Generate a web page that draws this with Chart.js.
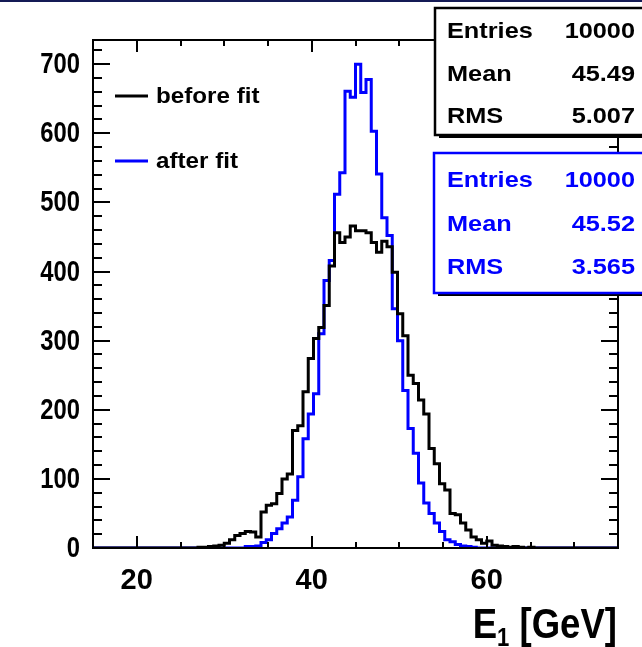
<!DOCTYPE html>
<html><head><meta charset="utf-8">
<script src="https://cdn.jsdelivr.net/npm/chart.js@4.4.1/dist/chart.umd.min.js"></script>
<style>html,body{margin:0;padding:0;background:#fff;overflow:hidden}</style>
</head><body>
<canvas id="c" width="642" height="647"></canvas>
<script>
// ---- data ----
const xMin = 15, xMax = 75, nBins = 100;
const beforeFit = [
  0,0,0,0,0,0,0,0,0,0, 0,0,0,0,0,0,0,0,0,0,
  1,1,2,3,4,7,12,18,21,24,
  23,16,52,62,64,79,100,107,170,177,
  226,274,303,319,351,408,456,442,450,466,
  459,459,456,442,428,444,436,399,339,307,
  250,238,214,194,144,122,93,84,50,48,
  36,26,16,12,7,10,4,3,2,1,
  2,1,0,1,0,0,0,0,0,0, 0,0,0,0,0,0,0,0,0,0
];
const afterFit = [
  0,0,0,0,0,0,0,0,0,0, 0,0,0,0,0,0,0,0,0,0,
  0,0,0,0,0,0,0,0,0,2,
  2,3,8,12,21,28,36,45,69,103,
  158,194,223,310,387,416,512,543,661,652,
  700,659,678,603,541,478,452,346,300,228,
  173,137,94,65,50,36,24,12,9,5,
  3,2,1,0,0,0,0,0,0,0,
  0,0,0,0,0,0,0,0,0,0, 0,0,0,0,0,0,0,0,0,0
];
const seriesLabels = ['before fit', 'after fit'];
const seriesColors = ['#000000', '#0000ff'];
const xTickLabels = [20, 40, 60];
const yTickLabels = [0, 100, 200, 300, 400, 500, 600, 700];
const yMax = 735;
const statNames = ['Entries', 'Mean', 'RMS'];
const statsBefore = ['10000', '45.49', '5.007'];
const statsAfter = ['10000', '45.52', '3.565'];
const xTitleMain = 'E', xTitleSub = '1', xTitleRest = ' [GeV]';

const FONT = "'Liberation Sans', Arial, Helvetica, sans-serif";

function steps(vals) {
  const w = (xMax - xMin) / nBins;
  const pts = vals.map((v, i) => ({ x: xMin + i * w, y: v }));
  pts.push({ x: xMax, y: vals[vals.length - 1] });
  return pts;
}

function sText(ctx, txt, x, y, sx, align) {
  ctx.save();
  ctx.translate(x, y);
  ctx.scale(sx, 1);
  ctx.textAlign = align;
  ctx.fillText(txt, 0, 0);
  ctx.restore();
}

const decor = {
  id: 'decor',
  afterDraw(chart) {
    const ctx = chart.ctx;
    const xs = chart.scales.x, ys = chart.scales.y;
    const L = chart.chartArea.left, R = chart.chartArea.right;
    const T = chart.chartArea.top, B = chart.chartArea.bottom;
    ctx.save();
    // top navy strip
    ctx.fillStyle = '#141a55';
    ctx.fillRect(0, 0, 642, 2);
    // frame
    ctx.strokeStyle = '#000';
    ctx.lineWidth = 2;
    ctx.strokeRect(L, T, R - L, B - T);
    // x ticks (bottom and top)
    ctx.beginPath();
    for (let v = 15; v <= 75; v += 5) {
      const px = Math.round(xs.getPixelForValue(v));
      const len = (v % 20 === 0) ? 12 : 6;
      ctx.moveTo(px, B); ctx.lineTo(px, B - len);
      ctx.moveTo(px, T); ctx.lineTo(px, T + len);
    }
    // y ticks (left and right)
    for (let v = 0; v <= yMax; v += 20) {
      const py = Math.round(ys.getPixelForValue(v));
      const len = (v % 100 === 0) ? 17 : 9;
      ctx.moveTo(L, py); ctx.lineTo(L + len, py);
      ctx.moveTo(R, py); ctx.lineTo(R - len, py);
    }
    ctx.stroke();

    // y tick labels (condensed, placed by the y scale)
    ctx.fillStyle = '#000';
    ctx.font = 'bold 29px ' + FONT;
    ctx.textBaseline = 'middle';
    ys.ticks.forEach(t => {
      sText(ctx, String(t.value), 80, ys.getPixelForValue(t.value) + 1, 0.82, 'right');
    });

    // legend
    ctx.font = 'bold 22px ' + FONT;
    ctx.textBaseline = 'middle';
    const legY = [96, 161];
    seriesLabels.forEach((lab, i) => {
      ctx.strokeStyle = seriesColors[i];
      ctx.lineWidth = 3;
      ctx.beginPath(); ctx.moveTo(115, legY[i]); ctx.lineTo(148, legY[i]); ctx.stroke();
      ctx.fillStyle = '#000';
      sText(ctx, lab, 156, legY[i] + 1, 1.1, 'left');
    });

    // stat boxes
    function box(x, y, w, h, col, names, vals, rowY) {
      ctx.fillStyle = '#000';
      ctx.fillRect(x + 4, y + h, w, 3);
      ctx.fillStyle = '#fff';
      ctx.fillRect(x, y, w, h);
      ctx.strokeStyle = col; ctx.lineWidth = 2.5;
      ctx.strokeRect(x, y, w, h);
      ctx.fillStyle = col;
      ctx.font = 'bold 22px ' + FONT;
      ctx.textBaseline = 'middle';
      names.forEach((n, i) => {
        sText(ctx, n, 447, rowY[i] + 1, 1.15, 'left');
        sText(ctx, vals[i], 635, rowY[i] + 1, 1.15, 'right');
      });
    }
    box(435, 8, 220, 127, '#000', statNames, statsBefore, [31, 74, 116]);
    box(434, 153, 220, 140, '#0000ff', statNames, statsAfter, [180, 224, 267]);

    // x title with subscript
    ctx.fillStyle = '#000';
    ctx.textBaseline = 'alphabetic';
    const sx = 0.85;
    const fMain = 'bold 43px ' + FONT, fSub = 'bold 26px ' + FONT;
    ctx.font = fMain;
    const wE = ctx.measureText(xTitleMain).width * sx;
    const wR = ctx.measureText(xTitleRest).width * sx;
    ctx.font = fSub;
    const wS = ctx.measureText(xTitleSub).width * sx;
    const right = 617, base = 638;
    const x0 = right - (wE + wS + wR);
    ctx.font = fMain; sText(ctx, xTitleMain, x0, base, sx, 'left');
    ctx.font = fSub; sText(ctx, xTitleSub, x0 + wE, base + 8, sx, 'left');
    ctx.font = fMain; sText(ctx, xTitleRest, x0 + wE + wS, base, sx, 'left');
    ctx.restore();
  }
};

new Chart(document.getElementById('c'), {
  type: 'line',
  data: {
    datasets: [
      { label: seriesLabels[0], data: steps(beforeFit), borderColor: seriesColors[0], borderWidth: 3,
        stepped: 'before', pointRadius: 0, fill: false, tension: 0 },
      { label: seriesLabels[1], data: steps(afterFit), borderColor: seriesColors[1], borderWidth: 3,
        stepped: 'before', pointRadius: 0, fill: false, tension: 0 }
    ]
  },
  options: {
    responsive: false,
    animation: false,
    devicePixelRatio: 1,
    layout: { padding: { left: 0, top: 40, right: 24, bottom: 0 } },
    plugins: { legend: { display: false }, tooltip: { enabled: false } },
    scales: {
      x: {
        type: 'linear', min: xMin, max: xMax,
        grid: { display: false, drawTicks: false }, border: { display: false },
        afterBuildTicks: s => { s.ticks = xTickLabels.map(v => ({ value: v })); },
        afterFit: s => { s.height = 99; },
        ticks: { color: '#000', padding: 16, maxRotation: 0, font: { family: FONT, size: 29, weight: 'bold' } }
      },
      y: {
        type: 'linear', min: 0, max: yMax,
        grid: { display: false, drawTicks: false }, border: { display: false },
        afterBuildTicks: s => { s.ticks = yTickLabels.map(v => ({ value: v })); },
        afterFit: s => { s.width = 93; },
        ticks: { display: false }
      }
    }
  },
  plugins: [decor]
});
</script>
</body></html>
